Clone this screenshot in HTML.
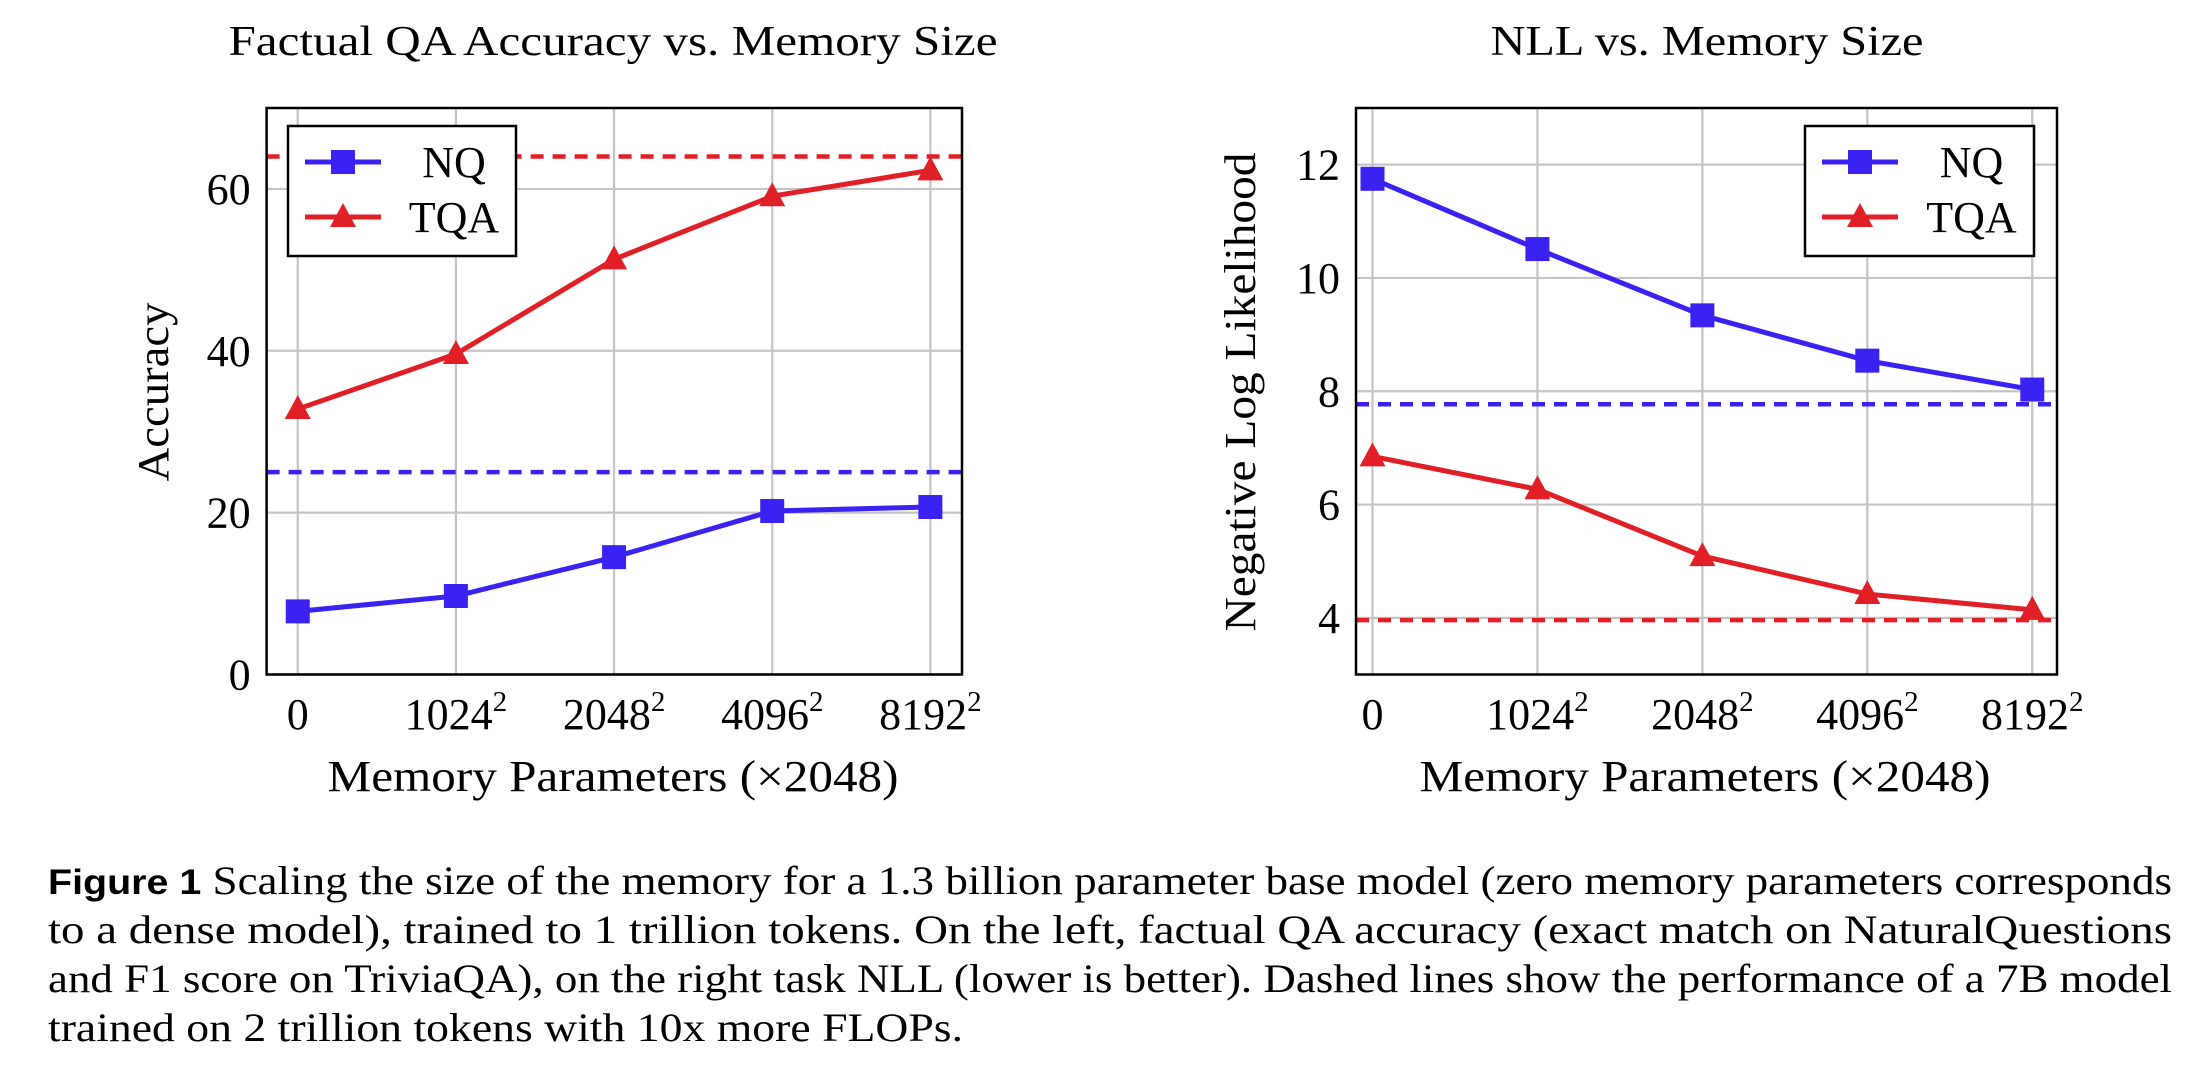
<!DOCTYPE html>
<html><head><meta charset="utf-8"><style>
html,body{margin:0;padding:0;background:#fff;}
svg{display:block;font-family:"Liberation Serif",serif;}
</style></head><body>
<svg id="fig" width="2193" height="1066" viewBox="0 0 2193 1066" xmlns="http://www.w3.org/2000/svg">
<g id="left"></g>
<g id="right"></g>
<g id="caption">
<text x="48" y="894" font-size="40" textLength="2124" lengthAdjust="spacingAndGlyphs"><tspan font-family="Liberation Sans, sans-serif" font-weight="bold" font-size="35">Figure 1</tspan>  Scaling the size of the memory for a 1.3 billion parameter base model (zero memory parameters corresponds</text>
<text x="48" y="943" font-size="40" textLength="2124" lengthAdjust="spacingAndGlyphs">to a dense model), trained to 1 trillion tokens. On the left, factual QA accuracy (exact match on NaturalQuestions</text>
<text x="48" y="992" font-size="40" textLength="2124" lengthAdjust="spacingAndGlyphs">and F1 score on TriviaQA), on the right task NLL (lower is better). Dashed lines show the performance of a 7B model</text>
<text x="48" y="1041" font-size="40" textLength="915" lengthAdjust="spacingAndGlyphs">trained on 2 trillion tokens with 10x more FLOPs.</text>
</g>
</svg>
<script>
const categories = ["0","1024","2048","4096","8192"];
const accNQ = [7.8, 9.7, 14.5, 20.2, 20.7];
const accTQA = [32.8, 39.6, 51.3, 59.1, 62.3];
const accRef = [25, 64];
const accTicks = [0, 20, 40, 60];
const nllNQ = [11.75, 10.51, 9.34, 8.54, 8.03];
const nllTQA = [6.85, 6.27, 5.09, 4.42, 4.14];
const nllRef = [7.77, 3.96];
const nllTicks = [4, 6, 8, 10, 12];

const NS = "http://www.w3.org/2000/svg";
const BLUE = "#3a22f2", RED = "#e01f27";
function mk(parent, tag, attrs, txt){
  const e = document.createElementNS(NS, tag);
  for (const k in attrs) e.setAttribute(k, attrs[k]);
  if (txt !== undefined) e.textContent = txt;
  parent.appendChild(e);
  return e;
}
function draw(g, cfg){
  const {x0,x1,y0,y1,ymin,ymax,xmin,xmax} = cfg;
  const sx = v => x0 + (v - xmin) / (xmax - xmin) * (x1 - x0);
  const sy = v => y1 - (v - ymin) / (ymax - ymin) * (y1 - y0);
  categories.forEach((c,i)=>{
    const l = mk(g,"line",{x1:sx(i),x2:sx(i),y1:y0,y2:y1,stroke:"#c4c4c4","stroke-width":2.2});
    
    
  });
  cfg.ticks.forEach(t=>{
    const l = mk(g,"line",{x1:x0,x2:x1,y1:sy(t),y2:sy(t),stroke:"#c4c4c4","stroke-width":2.2});
    
    
    const tx = mk(g,"text",{x:x0-16,y:sy(t)+15,"font-size":44,"text-anchor":"end"},String(t));
    
    
  });
  categories.forEach((c,i)=>{
    const tx = mk(g,"text",{x:sx(i),y:729,"font-size":44,"text-anchor":"middle"});
    
    
    if (i===0) { tx.textContent = c; }
    else {
      mk(tx,"tspan",{},c);
      mk(tx,"tspan",{"font-size":29,dy:-18},"2");
    }
  });
  cfg.ref.forEach((v,k)=>{
    const l = mk(g,"line",{x1:x0,x2:x1,y1:sy(v),y2:sy(v),stroke:k===0?BLUE:RED,"stroke-width":4.5,"stroke-dasharray":"13 9"});
    
    
  });
  const series = [[cfg.nq,BLUE,"nq"],[cfg.tqa,RED,"tqa"]];
  series.forEach(([vals,col,nm])=>{
    const pts = vals.map((v,i)=>sx(i)+","+sy(v)).join(" ");
    const pl = mk(g,"polyline",{points:pts,fill:"none",stroke:col,"stroke-width":5});
    
    
    vals.forEach((v,i)=>{
      let m;
      if (nm==="nq") m = mk(g,"rect",{x:sx(i)-12,y:sy(v)-12,width:24,height:24,fill:col});
      else { const cx=sx(i), cy=sy(v); m = mk(g,"polygon",{points:`${cx},${cy-14} ${cx+13},${cy+10} ${cx-13},${cy+10}`,fill:col}); }
      
      
    });
  });
  const fr = mk(g,"rect",{x:x0,y:y0,width:x1-x0,height:y1-y0,fill:"none",stroke:"#000","stroke-width":2.5});
  
  
  const L = cfg.leg;
  const lg = mk(g,"g",{});
  
  
  mk(lg,"rect",{x:L.x,y:126,width:L.w,height:130,fill:"#fff",stroke:"#000","stroke-width":2.5});
  [[BLUE,"NQ",177,"sq"],[RED,"TQA",232,"tri"]].forEach(([col,lab,by,shape])=>{
    const e = mk(lg,"g",{});
    
    
    const cy = by-15;
    mk(e,"line",{x1:L.x+17,x2:L.x+93,y1:cy,y2:cy,stroke:col,"stroke-width":5});
    const cx = L.x+55;
    if (shape==="sq") mk(e,"rect",{x:cx-12,y:cy-12,width:24,height:24,fill:col});
    else mk(e,"polygon",{points:`${cx},${cy-14} ${cx+13},${cy+10} ${cx-13},${cy+10}`,fill:col});
    mk(e,"text",{x:L.x+L.w/2+52,y:by,"font-size":44,"text-anchor":"middle"},lab);
  });
  const t = mk(g,"text",{x:cfg.tcx,y:55,"font-size":42,"text-anchor":"middle",textLength:cfg.tw,lengthAdjust:"spacingAndGlyphs"},cfg.title);
  
  
  const xt = mk(g,"text",{x:cfg.xcx,y:791,"font-size":44,"text-anchor":"middle",textLength:571,lengthAdjust:"spacingAndGlyphs"},"Memory Parameters (×2048)");
  
  
  const yt = mk(g,"text",{x:0,y:0,"font-size":44,"text-anchor":"middle",textLength:cfg.yw,lengthAdjust:"spacingAndGlyphs",transform:`translate(${cfg.ycx},392) rotate(-90)`},cfg.ytitle);
  
  
}
draw(document.getElementById("left"),{x0:266.6,x1:962,y0:108,y1:674.5,xmin:-0.197,xmax:4.2,ymin:0,ymax:70,
  ticks:accTicks,ref:accRef,nq:accNQ,tqa:accTQA,leg:{x:288,w:228},title:"Factual QA Accuracy vs. Memory Size",tcx:613,tw:769,xcx:613,
  ytitle:"Accuracy",ycx:168,yw:179});
draw(document.getElementById("right"),{x0:1356,x1:2057,y0:108,y1:674.5,xmin:-0.1,xmax:4.15,ymin:3,ymax:13,
  ticks:nllTicks,ref:nllRef,nq:nllNQ,tqa:nllTQA,leg:{x:1805,w:229},title:"NLL vs. Memory Size",tcx:1707,tw:433,xcx:1705,
  ytitle:"Negative Log Likelihood",ycx:1255,yw:479});
</script>
</body></html>
